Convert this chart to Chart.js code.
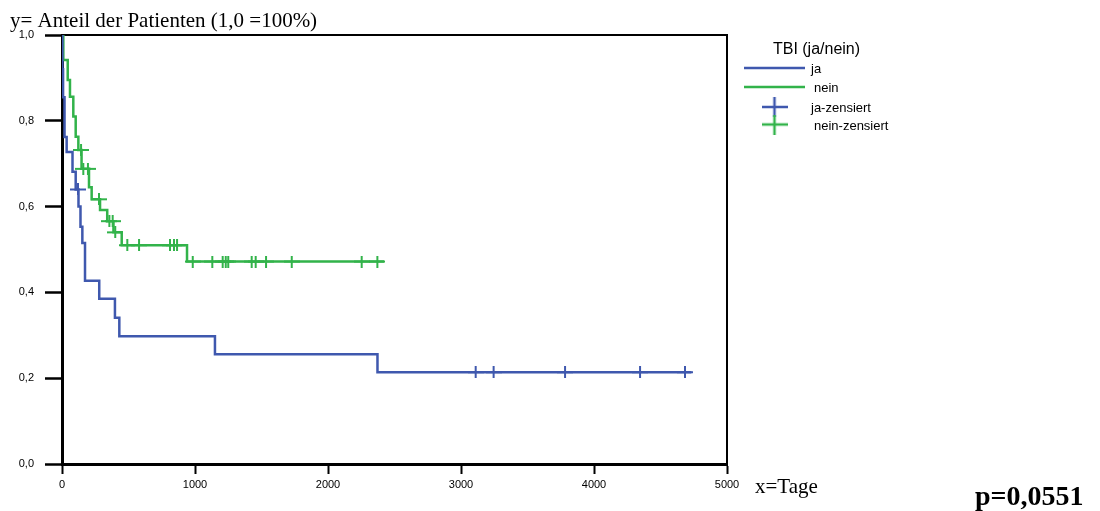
<!DOCTYPE html>
<html>
<head>
<meta charset="utf-8">
<title>Überleben nach TBI</title>
<script src="https://cdn.jsdelivr.net/npm/chart.js@4.4.1/dist/chart.umd.min.js"></script>
<style>
  html, body { margin: 0; padding: 0; background: #ffffff; }
  canvas { display: block; }
</style>
</head>
<body>
<canvas id="km" width="1100" height="511"></canvas>
<script>
// Kaplan-Meier: Anteil der Patienten über die Zeit (Tage), getrennt nach TBI ja/nein.
// Each step point is (day of event, survival proportion after the event).
const jaTage = [0, 3, 8, 19, 35, 79, 103, 124, 139, 153, 173, 280, 398, 431, 1150, 2372, 4732];
const jaAnteil = [1.0, 0.92, 0.855, 0.762, 0.727, 0.681, 0.640, 0.600, 0.553, 0.515, 0.427, 0.385, 0.341, 0.298, 0.256, 0.214, 0.214];

const neinTage = [0, 10, 43, 60, 85, 103, 123, 147, 203, 223, 286, 340, 387, 449, 940, 2421];
const neinAnteil = [1.0, 0.942, 0.895, 0.856, 0.810, 0.763, 0.732, 0.688, 0.645, 0.617, 0.592, 0.566, 0.540, 0.510, 0.472, 0.472];

// Censored observations
const jaZensiertTage = [120, 3110, 3245, 3782, 4346, 4684];
const jaZensiertAnteil = [0.640, 0.214, 0.214, 0.214, 0.214, 0.214];

const neinZensiertTage = [143, 160, 195, 278, 356, 381, 400, 491, 579, 812, 842, 865,
  983, 1130, 1208, 1231, 1250, 1426, 1456, 1534, 1727, 2253, 2371];
const neinZensiertAnteil = [0.732, 0.688, 0.688, 0.617, 0.566, 0.566, 0.540, 0.510, 0.510, 0.510, 0.510, 0.510,
  0.472, 0.472, 0.472, 0.472, 0.472, 0.472, 0.472, 0.472, 0.472, 0.472, 0.472];

// Axis ticks
const xTicks = [0, 1000, 2000, 3000, 4000, 5000];
const yTicks = [0.0, 0.2, 0.4, 0.6, 0.8, 1.0];

// Legend entries
const legendTitle = 'TBI (ja/nein)';
const legendLabels = ['ja', 'nein', 'ja-zensiert', 'nein-zensiert'];

const BLUE = '#3f58ae';
const GREEN = '#32b34a';

function crossImage(w, h, color, lw) {
  const c = document.createElement('canvas');
  c.width = w; c.height = h;
  const g = c.getContext('2d');
  g.strokeStyle = color;
  g.lineWidth = lw;
  g.beginPath();
  g.moveTo(0, h / 2); g.lineTo(w, h / 2);
  g.moveTo(w / 2, 0); g.lineTo(w / 2, h);
  g.stroke();
  return c;
}

const crossBlue = crossImage(16, 12, BLUE, 2);
const crossGreen = crossImage(16, 12, GREEN, 2);
const legendCrossBlue = crossImage(26, 20, BLUE, 2.5);
const legendCrossGreen = crossImage(26, 20, GREEN, 2.5);

const toPoints = (xs, ys) => xs.map((x, i) => ({ x: x, y: ys[i] }));

// Frame, axis captions, legend and p-value
const annotations = {
  id: 'annotations',
  beforeDatasetsDraw(chart) {
    const { ctx, chartArea: a } = chart;
    ctx.save();
    ctx.strokeStyle = '#000';
    ctx.lineWidth = 2;
    ctx.beginPath();
    ctx.moveTo(a.left, a.top);
    ctx.lineTo(a.right, a.top);
    ctx.lineTo(a.right, a.bottom);
    ctx.stroke();
    ctx.restore();
  },
  afterDraw(chart) {
    const { ctx, chartArea: a } = chart;
    ctx.save();
    ctx.fillStyle = '#000';
    ctx.textBaseline = 'alphabetic';
    ctx.textAlign = 'left';
    ctx.font = '21px "Liberation Serif"';
    ctx.fillText('y= Anteil der Patienten (1,0 =100%)', 10, 26.5);
    ctx.font = '21px "Liberation Serif"';
    ctx.fillText('x=Tage', a.right + 28, 493);
    ctx.font = 'bold 28px "Liberation Serif"';
    ctx.fillText('p=0,0551', 975, 505);

    // legend
    ctx.font = '16px "Liberation Sans"';
    ctx.textAlign = 'center';
    ctx.fillText(legendTitle, 816.5, 54);
    ctx.textAlign = 'left';
    ctx.font = '13px "Liberation Sans"';
    ctx.lineWidth = 2.5;
    ctx.strokeStyle = BLUE;
    ctx.beginPath(); ctx.moveTo(744, 68); ctx.lineTo(805, 68); ctx.stroke();
    ctx.strokeStyle = GREEN;
    ctx.beginPath(); ctx.moveTo(744, 87); ctx.lineTo(805, 87); ctx.stroke();
    ctx.drawImage(legendCrossBlue, 774.5 - 13, 107 - 10);
    ctx.drawImage(legendCrossGreen, 774.5 - 13, 124.5 - 10);
    ctx.fillText(legendLabels[0], 811, 72.5);
    ctx.fillText(legendLabels[1], 814, 91.5);
    ctx.fillText(legendLabels[2], 811, 111.5);
    ctx.fillText(legendLabels[3], 814, 130);
    ctx.restore();
  }
};

Chart.defaults.font.family = '"Liberation Sans", Arial, sans-serif';
Chart.defaults.color = '#000';

new Chart(document.getElementById('km'), {
  type: 'line',
  data: {
    datasets: [
      {
        label: legendLabels[0],
        data: toPoints(jaTage, jaAnteil),
        borderColor: BLUE,
        borderWidth: 2.5,
        stepped: 'before',
        pointRadius: 0,
        fill: false
      },
      {
        label: legendLabels[1],
        data: toPoints(neinTage, neinAnteil),
        borderColor: GREEN,
        borderWidth: 2.5,
        stepped: 'before',
        pointRadius: 0,
        fill: false
      },
      {
        label: legendLabels[2],
        data: toPoints(jaZensiertTage, jaZensiertAnteil),
        showLine: false,
        pointStyle: crossBlue,
        pointRadius: 6,
        borderColor: BLUE,
        backgroundColor: BLUE
      },
      {
        label: legendLabels[3],
        data: toPoints(neinZensiertTage, neinZensiertAnteil),
        showLine: false,
        pointStyle: crossGreen,
        pointRadius: 6,
        borderColor: GREEN,
        backgroundColor: GREEN
      }
    ]
  },
  options: {
    responsive: false,
    animation: false,
    devicePixelRatio: 1,
    layout: { padding: { top: 35, right: 373, bottom: 0, left: 0 } },
    plugins: {
      legend: { display: false },
      tooltip: { enabled: false }
    },
    scales: {
      x: {
        type: 'linear',
        min: xTicks[0],
        max: xTicks[xTicks.length - 1],
        afterBuildTicks(scale) { scale.ticks = xTicks.map(v => ({ value: v })); },
        afterFit(scale) { scale.height = 47; },
        ticks: {
          padding: 4,
          font: { size: 11 },
          color: '#000',
          maxRotation: 0,
          callback: v => String(v)
        },
        grid: {
          drawOnChartArea: false,
          drawTicks: true,
          tickLength: 10,
          tickWidth: 2,
          tickColor: '#000'
        },
        border: { display: true, color: '#000', width: 3 }
      },
      y: {
        type: 'linear',
        min: yTicks[0],
        max: yTicks[yTicks.length - 1],
        afterBuildTicks(scale) { scale.ticks = yTicks.map(v => ({ value: v })); },
        afterFit(scale) { scale.width = 62; },
        ticks: {
          padding: 11,
          font: { size: 11 },
          color: '#000',
          callback: v => v.toFixed(1).replace('.', ',')
        },
        grid: {
          drawOnChartArea: false,
          drawTicks: true,
          tickLength: 17,
          tickWidth: 2.5,
          tickColor: '#000'
        },
        border: { display: true, color: '#000', width: 3 }
      }
    }
  },
  plugins: [annotations]
});
</script>
</body>
</html>
